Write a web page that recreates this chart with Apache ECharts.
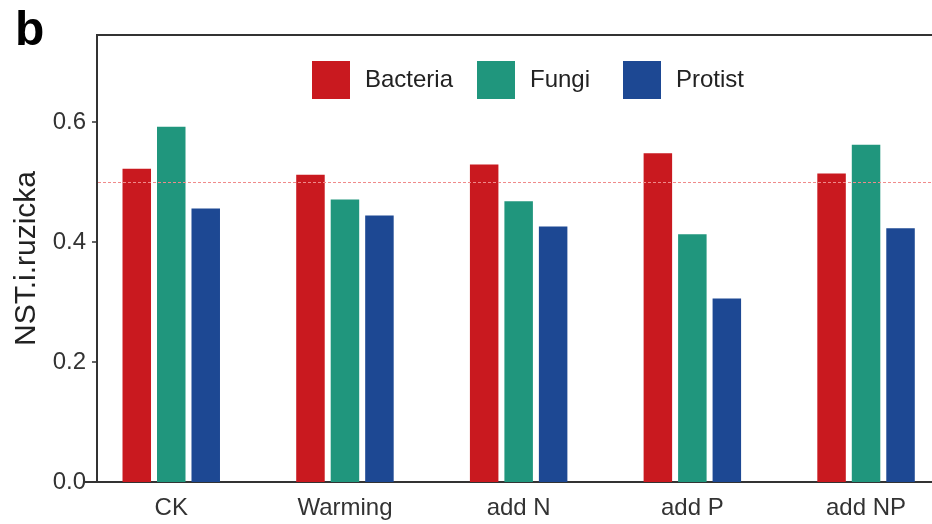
<!DOCTYPE html>
<html>
<head>
<meta charset="utf-8">
<script src="https://cdn.jsdelivr.net/npm/echarts@6/dist/echarts.min.js"></script>
<style>
  html, body { margin: 0; padding: 0; background: #fff; }
  #main { width: 932px; height: 524px; }
</style>
</head>
<body>
<div id="main"></div>
<script>
var chart = echarts.init(document.getElementById('main'));

var categories = ['CK', 'Warming', 'add N', 'add P', 'add NP'];
var bacteria = [0.522, 0.512, 0.529, 0.548, 0.514];
var fungi = [0.592, 0.471, 0.468, 0.413, 0.562];
var protist = [0.456, 0.444, 0.426, 0.306, 0.423];
var refLine = 0.5;

var colors = { Bacteria: '#C9191F', Fungi: '#20967D', Protist: '#1D4893' };
var font = 'Liberation Sans, Arial, sans-serif';

function legendFor(name, left) {
    return {
        data: [name],
        left: left,
        top: 61,
        padding: 0,
        itemWidth: 38,
        itemHeight: 38,
        icon: 'rect',
        textStyle: { fontSize: 24, color: '#222', fontFamily: font, padding: [0, 0, 0, 10] }
    };
}

var option = {
    animation: false,
    title: {
        text: 'b',
        left: 15,
        top: 8,
        padding: 0,
        textStyle: { fontSize: 48, fontWeight: 'bold', color: '#000', fontFamily: font }
    },
    legend: [legendFor('Bacteria', 312), legendFor('Fungi', 477), legendFor('Protist', 623)],
    // plot panel runs past the right edge of the picture (cropped figure)
    grid: { left: 84.4, right: -20.9, top: 35, bottom: 42, outerBoundsMode: 'none', containLabel: false },
    xAxis: {
        type: 'category',
        data: categories,
        axisLine: { lineStyle: { color: '#333', width: 2 } },
        axisTick: { show: false },
        axisLabel: { fontSize: 24, color: '#333', fontFamily: font, margin: 14 }
    },
    yAxis: {
        type: 'value',
        min: 0,
        max: 0.745,
        interval: 0.2,
        offset: -12.6,
        name: 'NST.i.ruzicka',
        nameLocation: 'middle',
        nameGap: 52,
        nameTextStyle: { fontSize: 30, color: '#222', fontFamily: font },
        axisLine: { show: true, lineStyle: { color: '#333', width: 2 } },
        axisTick: { show: true, length: 5, lineStyle: { color: '#333', width: 1.5 } },
        axisLabel: {
            fontSize: 24, color: '#333', fontFamily: font, margin: 11,
            showMaxLabel: false,
            formatter: function (v) { return v.toFixed(1); }
        },
        splitLine: { show: false }
    },
    graphic: [{
        type: 'line',
        shape: { x1: 96, y1: 35, x2: 932, y2: 35 },
        style: { stroke: '#333', lineWidth: 2 }
    }],
    series: [
        {
            name: 'Bacteria', type: 'bar', data: bacteria,
            barWidth: 28.5, barGap: '21%',
            itemStyle: { color: colors.Bacteria },
            markLine: {
                silent: true, symbol: 'none', label: { show: false },
                lineStyle: { color: '#F08A8A', type: [3, 2], width: 1 },
                data: [[{ yAxis: refLine, x: 98 }, { yAxis: refLine, x: 932 }]]
            }
        },
        {
            name: 'Fungi', type: 'bar', data: fungi,
            barWidth: 28.5, barGap: '21%',
            itemStyle: { color: colors.Fungi }
        },
        {
            name: 'Protist', type: 'bar', data: protist,
            barWidth: 28.5, barGap: '21%',
            itemStyle: { color: colors.Protist }
        }
    ]
};

chart.setOption(option);
</script>
</body>
</html>
